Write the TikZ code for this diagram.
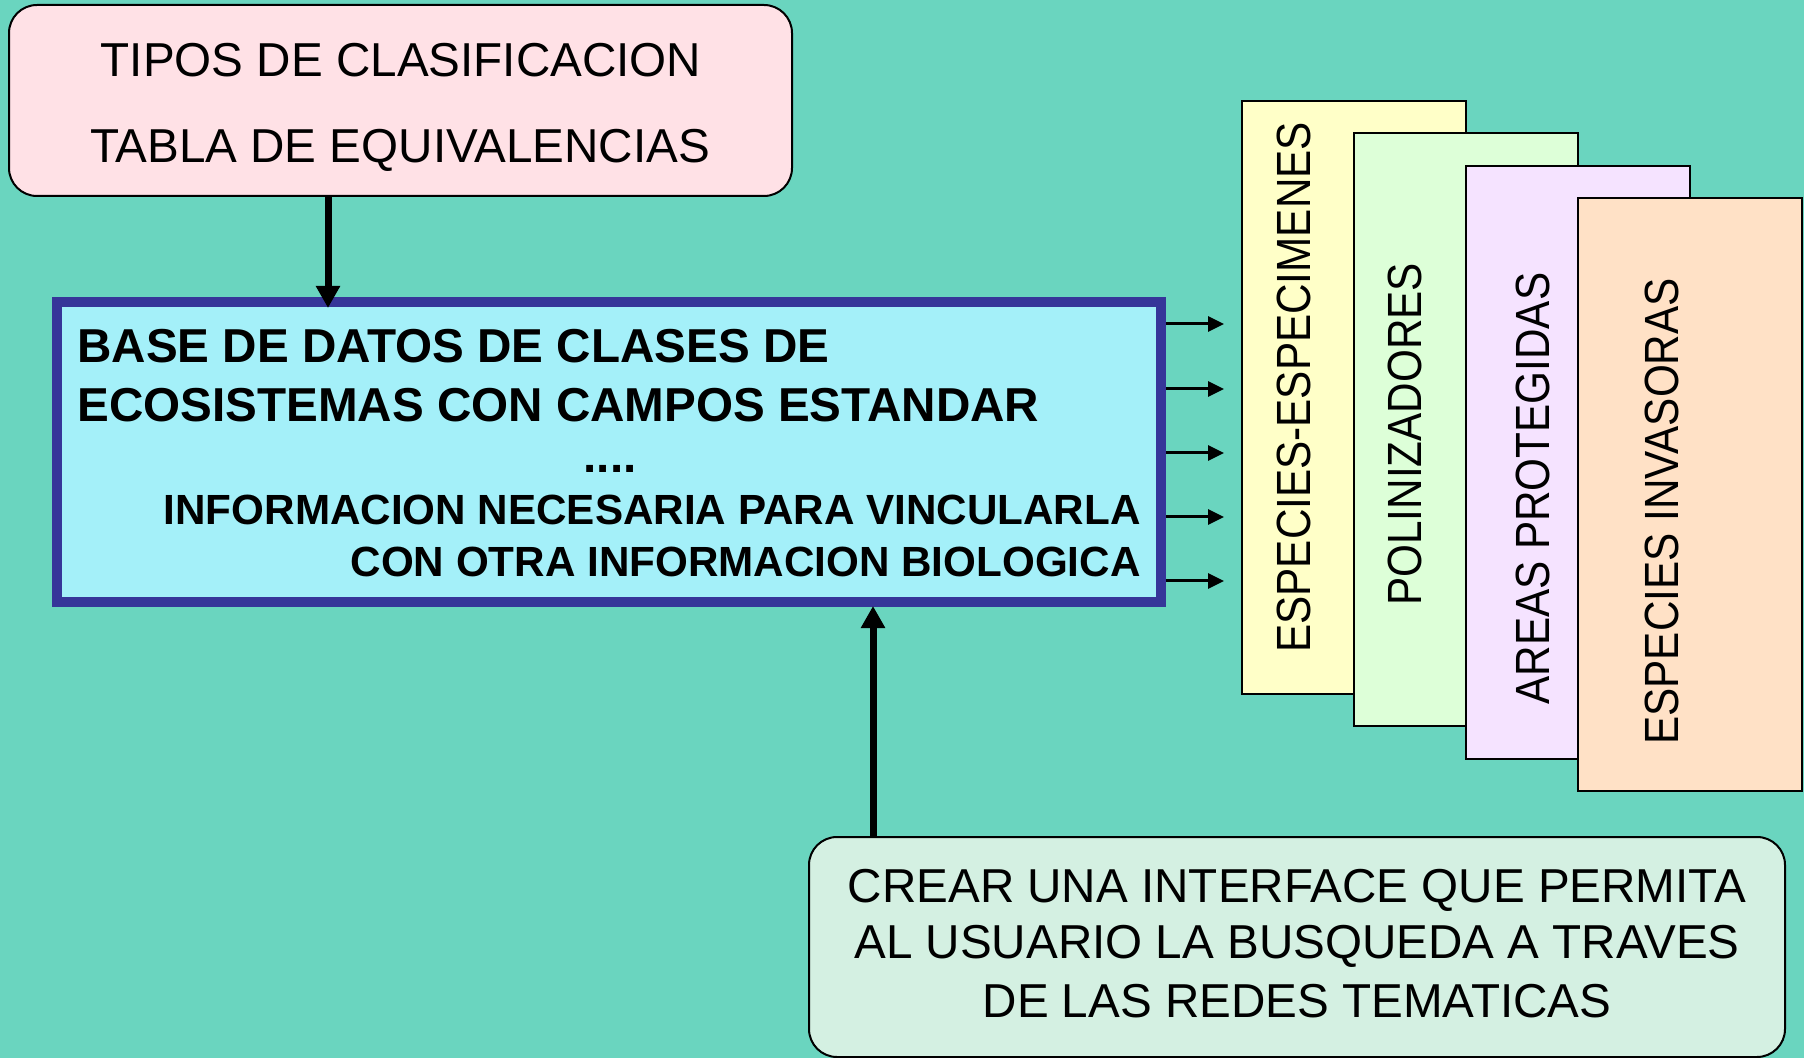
\documentclass[tikz,border=0pt]{standalone}
\usepackage{fontspec}
\setmainfont{Liberation Sans}
\usetikzlibrary{arrows.meta}
\definecolor{bg}{RGB}{106,213,191}
\definecolor{pinkfill}{RGB}{255,225,230}
\definecolor{cyanfill}{RGB}{164,240,249}
\definecolor{navy}{RGB}{54,54,153}
\definecolor{yellowfill}{RGB}{255,255,200}
\definecolor{greenfill}{RGB}{221,255,216}
\definecolor{lilacfill}{RGB}{245,227,255}
\definecolor{peachfill}{RGB}{255,225,198}
\definecolor{mintfill}{RGB}{212,240,226}
\tikzset{
  outline/.style={draw=black, line width=1pt, inner sep=0pt},
  roundbox/.style={outline, rounded corners=14pt},
  card/.style={outline, anchor=north west, minimum width=112pt, minimum height=296.5pt},
  regtext/.style={inner sep=0pt, font=\fontsize{23.8}{28}\selectfont},
  boldtext/.style={inner sep=0pt, font=\fontsize{23.8}{28}\selectfont\bfseries},
  smallbold/.style={inner sep=0pt, font=\fontsize{21.1}{25}\selectfont\bfseries},
  vtext/.style={inner sep=0pt, anchor=base west, rotate=90, font=\fontsize{24}{28}\selectfont},
  bigarrow/.style={line width=3.5pt, -{Triangle[length=11pt,width=11.5pt]}},
  tinyarrow/.style={line width=1.5pt, -{Triangle[length=8pt,width=7.5pt]}}
}
\begin{document}
\begin{tikzpicture}[x=0.5pt,y=-0.5pt]
\useasboundingbox (0,0) rectangle (1804,1058);
\fill[bg] (0,0) rectangle (1804,1058);

% top pink box
\node[roundbox, fill=pinkfill, minimum width=391.5pt, minimum height=95.5pt] (pink) at (400.5,100.5) {};
\node[regtext, anchor=base] (p1) at (401,77) {TIPOS DE CLASIFICACION};
\node[regtext, anchor=base] (p2) at (400,163) {TABLA DE EQUIVALENCIAS};

% main blue box
\node[draw=navy, line width=5pt, fill=cyanfill, inner sep=0pt, minimum width=552pt, minimum height=150pt] (base) at (609,452) {};
\node[boldtext, anchor=base west] (b1) at (77,363) {BASE DE DATOS DE CLASES DE};
\node[boldtext, anchor=base west] (b2) at (77,422) {ECOSISTEMAS CON CAMPOS ESTANDAR};
\node[boldtext, anchor=base] (b3) at (610,473) {....};
\node[smallbold, anchor=base east] (b4) at (1141,525) {INFORMACION NECESARIA PARA VINCULARLA};
\node[smallbold, anchor=base east] (b5) at (1141,577) {CON OTRA INFORMACION BIOLOGICA};

% stacked cards
\node[card, fill=yellowfill] (c1) at (1241,100) {};
\node[card, fill=greenfill] (c2) at (1353,132) {};
\node[card, fill=lilacfill] (c3) at (1465,165) {};
\node[card, fill=peachfill] (c4) at (1577,197) {};
\node[vtext] (v1) at (1310,653) {\scalebox{0.88}[1]{ESPECIES-ESPECIMENES}};
\node[vtext] (v2) at (1421,606) {\scalebox{0.88}[1]{POLINIZADORES}};
\node[vtext] (v3) at (1549,705) {\scalebox{0.88}[1]{AREAS PROTEGIDAS}};
\node[vtext] (v4) at (1678,745) {\scalebox{0.88}[1]{ESPECIES INVASORAS}};

% bottom box
\node[roundbox, fill=mintfill, minimum width=488pt, minimum height=110pt] (mint) at (1297,947) {};
\node[regtext, anchor=base] (m1) at (1297,902) {CREAR UNA INTERFACE QUE PERMITA};
\node[regtext, anchor=base] (m2) at (1297,958) {AL USUARIO LA BUSQUEDA A TRAVES};
\node[regtext, anchor=base] (m3) at (1297,1017) {DE LAS REDES TEMATICAS};

% connectors
\coordinate (topx) at (328,0);
\coordinate (botx) at (873,0);
\draw[bigarrow, shorten >=-5.5pt] (pink.south -| topx) -- (base.north -| topx);
\draw[bigarrow, shorten >=-0.5pt] (mint.north -| botx) -- (base.south -| botx);

\foreach \i/\yy in {1/324,2/389,3/453,4/517,5/581}{
  \coordinate (e\i) at (1224,\yy);
  \draw[tinyarrow] (base.east |- e\i) -- (e\i);
}
\end{tikzpicture}
\end{document}
